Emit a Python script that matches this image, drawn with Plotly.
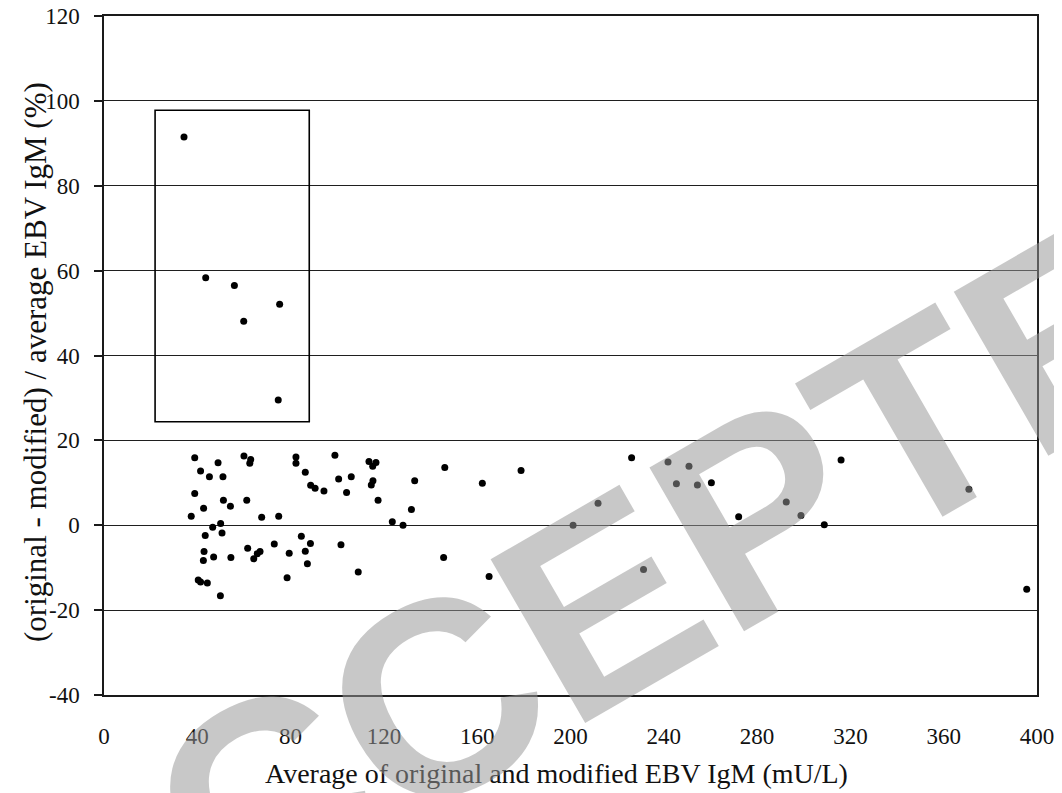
import plotly.graph_objects as go

# Average of original and modified EBV IgM (mU/L)
avg_igm = [
    34.3, 43.6, 55.9, 75.3, 59.9, 74.7,
    38.9, 41.4, 45.2, 48.9, 51.0, 38.9, 42.7, 37.4, 51.2, 54.2,
    60.0, 62.9, 62.5, 61.2, 67.6, 74.9, 82.3, 82.3, 86.3, 88.6,
    90.5, 94.3, 99.0, 100.6, 104.0, 106.0,
    46.6, 50.0, 50.6, 43.4, 42.9, 42.6, 47.0, 54.4, 40.4, 41.4,
    44.3, 49.9, 61.6, 65.7, 66.9, 64.2, 73.0, 79.4, 78.5, 84.6,
    88.5, 86.3, 87.2, 101.6,
    113.6, 116.6, 115.2, 115.3, 114.6, 117.5, 133.2, 146.1, 131.8,
    123.6, 128.2, 109.0, 145.6,
    162.2, 178.8, 226.2, 211.8, 201.1, 231.3, 165.1,
    241.8, 250.8, 245.4, 254.4, 260.4, 272.1, 292.5, 298.8, 308.8,
    316.0, 370.8, 395.6,
]
# (original - modified) / average EBV IgM (%)
diff_pct = [
    91.5, 58.3, 56.5, 52.1, 48.1, 29.5,
    15.9, 12.8, 11.4, 14.7, 11.4, 7.5, 4.0, 2.1, 5.9, 4.5,
    16.3, 15.5, 14.6, 5.9, 1.9, 2.1, 16.1, 14.6, 12.5, 9.4,
    8.7, 8.1, 16.5, 10.9, 7.7, 11.4,
    -0.5, 0.4, -1.8, -2.4, -6.2, -8.3, -7.5, -7.6, -12.9, -13.4,
    -13.6, -16.6, -5.4, -6.7, -6.2, -7.9, -4.4, -6.6, -12.4, -2.6,
    -4.3, -6.1, -9.1, -4.6,
    15.0, 14.8, 13.9, 10.5, 9.5, 5.9, 10.5, 13.6, 3.7,
    0.8, 0.0, -11.0, -7.6,
    9.9, 12.9, 15.9, 5.2, 0.0, -10.4, -12.1,
    14.9, 13.9, 9.8, 9.5, 10.0, 2.0, 5.5, 2.3, 0.1,
    15.4, 8.5, -15.1,
]

# Highlight box (data units)
box_x = [21.9, 88.0]
box_y = [24.4, 97.8]

x_ticks = [0, 40, 80, 120, 160, 200, 240, 280, 320, 360, 400]
y_ticks = [-40, -20, 0, 20, 40, 60, 80, 100, 120]
y_ticktext = ["-40", "-20", "0", "20", "40", "60", "80", "100", "120"]

x_title = "Average of original and modified EBV IgM (mU/L)"
y_title = "(original - modified) / average EBV IgM (%)"
watermark = "ACCEPTED"

serif = "Liberation Serif, Times New Roman, serif"

# The page body adds an 8 px offset; figure is sized so that the plot area
# lands at window pixels x 104-1037, y 16-695.
OFF = 8
FW, FH = 1062 - OFF, 793 - OFF
L, R, T, B = 104 - OFF, 1037 - OFF, 16 - OFF, 695 - OFF
W, H = R - L, B - T


def px(xw):
    return (xw - OFF - L) / W


def py(yw):
    return (B - (yw - OFF)) / H


fig = go.Figure()
fig.add_trace(go.Scatter(
    x=avg_igm, y=diff_pct, mode="markers",
    marker=dict(size=7, color="black"),
    showlegend=False, hoverinfo="x+y",
))

fig.add_shape(type="rect", xref="x", yref="y",
              x0=box_x[0], x1=box_x[1], y0=box_y[0], y1=box_y[1],
              line=dict(color="black", width=1.6))

fig.update_xaxes(
    range=[0, 400], tickvals=x_ticks, ticks="", showgrid=False,
    zeroline=False, showline=True, linecolor="#1a1a1a", linewidth=1.5,
    mirror=True, tickfont=dict(family=serif, size=23, color="#111"),
    ticklabelstandoff=20, automargin=False, ticklabeloverflow="allow",
)
fig.update_yaxes(
    range=[-40, 120], tickvals=y_ticks, ticktext=y_ticktext,
    ticks="outside", ticklen=8,
    tickcolor="#1a1a1a", tickwidth=1.5, showgrid=True, gridcolor="#1f1f1f",
    gridwidth=1.4, zeroline=False, showline=True, linecolor="#1a1a1a",
    linewidth=1.5, mirror=True,
    tickfont=dict(family=serif, size=23, color="#111"),
    ticklabelstandoff=10, automargin=False, ticklabeloverflow="allow",
)

fig.add_annotation(text=x_title, xref="paper", yref="paper",
                   x=px(556), y=py(773),
                   xanchor="center", yanchor="middle", showarrow=False,
                   font=dict(family=serif, size=28, color="#111"))
fig.add_annotation(text=y_title, xref="paper", yref="paper",
                   x=px(35), y=py(362),
                   xanchor="center", yanchor="middle", showarrow=False,
                   textangle=-90,
                   font=dict(family=serif, size=31, color="#111"))

fig.add_annotation(text=watermark, xref="paper", yref="paper",
                   x=px(660), y=py(569),
                   xanchor="center", yanchor="middle", showarrow=False,
                   textangle=-30,
                   font=dict(family="Liberation Sans, Arial, sans-serif",
                             size=275, color="rgba(151,151,151,0.53)",
                             weight="bold"))

fig.update_layout(
    width=FW, height=FH,
    margin=dict(l=L, r=FW - R, t=T, b=FH - B, autoexpand=False),
    plot_bgcolor="white", paper_bgcolor="white",
)

fig.write_html("out.html")
